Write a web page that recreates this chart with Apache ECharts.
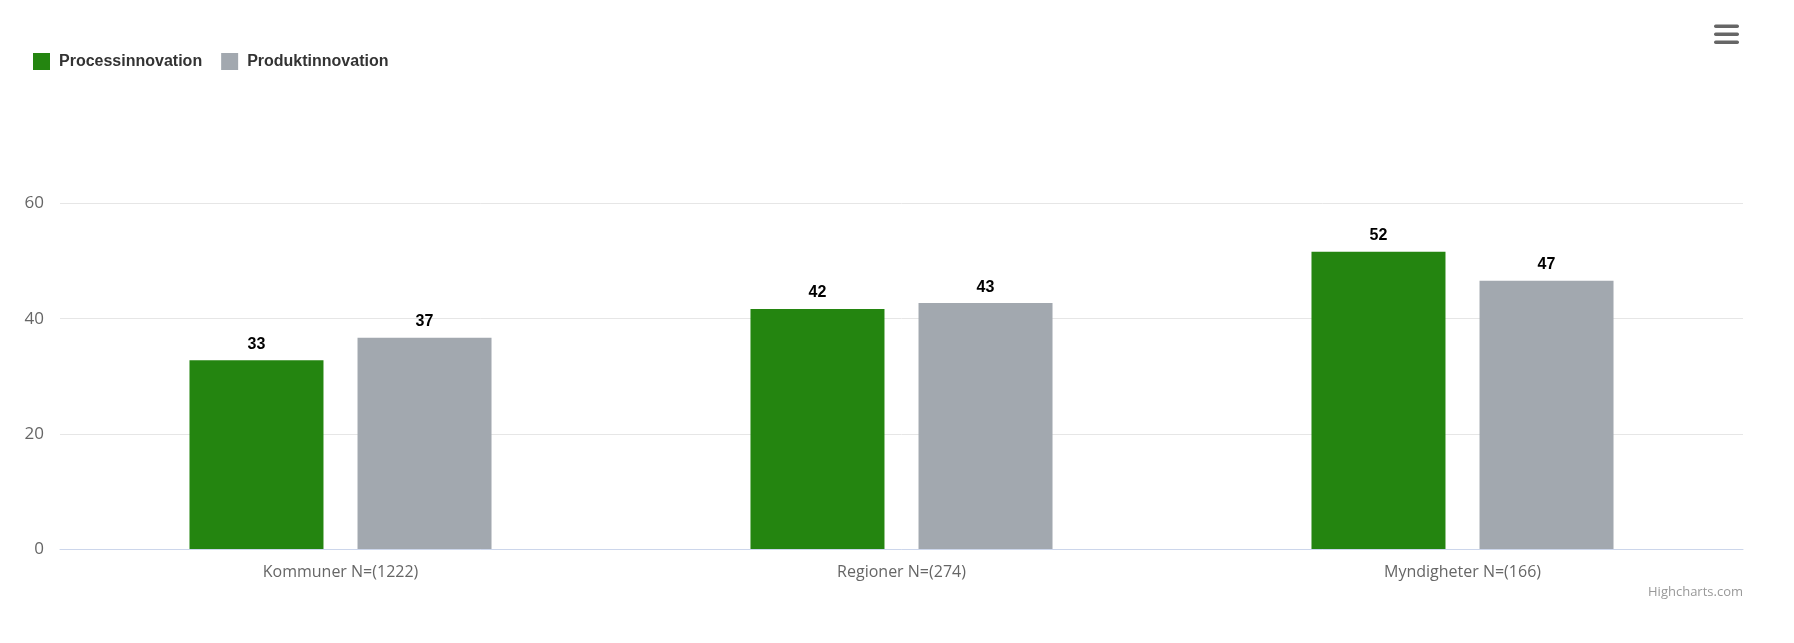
<!DOCTYPE html>
<html>
<head>
<meta charset="utf-8">
<script src="https://cdn.jsdelivr.net/npm/echarts@6/dist/echarts.min.js"></script>
<style>
html,body{margin:0;padding:0;background:#fff;}
#chart{width:1794px;height:643px;}
</style>
</head>
<body>
<div id="chart"></div>
<script>
const categories = ['Kommuner N=(1222)', 'Regioner N=(274)', 'Myndigheter N=(166)'];
const seriesNames = ['Processinnovation', 'Produktinnovation'];
const processValues = [32.8, 41.7, 51.6];
const produktValues = [36.7, 42.7, 46.6];
const yTicks = [0, 20, 40, 60];

const chart = echarts.init(document.getElementById('chart'), null, {renderer: 'canvas'});
const labelCfg = {
  show: true,
  position: 'top',
  distance: 8,
  color: '#000',
  fontWeight: 'bold',
  fontSize: 16,
  fontFamily: 'Liberation Sans, Arial, sans-serif',
  formatter: p => Math.round(p.value)
};
chart.setOption({
  animation: false,
  backgroundColor: '#fff',
  color: ['#248510', '#a2a8af'],
  legend: {
    left: 33,
    top: 53,
    padding: 0,
    itemWidth: 17,
    itemHeight: 17,
    itemGap: 19,
    icon: 'rect',
    textStyle: {
      color: '#333',
      fontSize: 16,
      fontWeight: 'bold',
      fontFamily: 'Liberation Sans, Arial, sans-serif',
      padding: [0, 0, 0, 4]
    },
    data: seriesNames
  },
  grid: {left: 60, right: 51, top: 203.5, bottom: 94, containLabel: false},
  xAxis: {
    type: 'category',
    data: categories,
    axisLine: {lineStyle: {color: '#ccd6eb', width: 1}},
    axisTick: {show: false},
    axisLabel: {color: '#666', fontSize: 16, margin: 15, fontFamily: 'Open Sans, Liberation Sans, sans-serif'}
  },
  yAxis: {
    type: 'value',
    min: yTicks[0],
    max: yTicks[yTicks.length - 1],
    interval: 20,
    axisLine: {show: false},
    axisTick: {show: false},
    splitLine: {lineStyle: {color: '#e6e6e6', width: 1}},
    axisLabel: {color: '#666', fontSize: 17, margin: 16, fontFamily: 'Open Sans, Liberation Sans, sans-serif'}
  },
  series: [
    {name: seriesNames[0], type: 'bar', data: processValues, barWidth: 134, barGap: '25.4%', label: labelCfg},
    {name: seriesNames[1], type: 'bar', data: produktValues, barWidth: 134, barGap: '25.4%', label: labelCfg}
  ],
  graphic: [
    {type: 'rect', left: 1714, top: 24.5, shape: {width: 25, height: 3.4, r: 1.7}, style: {fill: '#666'}},
    {type: 'rect', left: 1714, top: 32.5, shape: {width: 25, height: 3.4, r: 1.7}, style: {fill: '#666'}},
    {type: 'rect', left: 1714, top: 40.5, shape: {width: 25, height: 3.4, r: 1.7}, style: {fill: '#666'}},
    {type: 'text', right: 51, top: 586, style: {text: 'Highcharts.com', fill: '#999', fontSize: 13, fontFamily: 'Open Sans, Liberation Sans, sans-serif'}}
  ]
});
</script>
</body>
</html>
